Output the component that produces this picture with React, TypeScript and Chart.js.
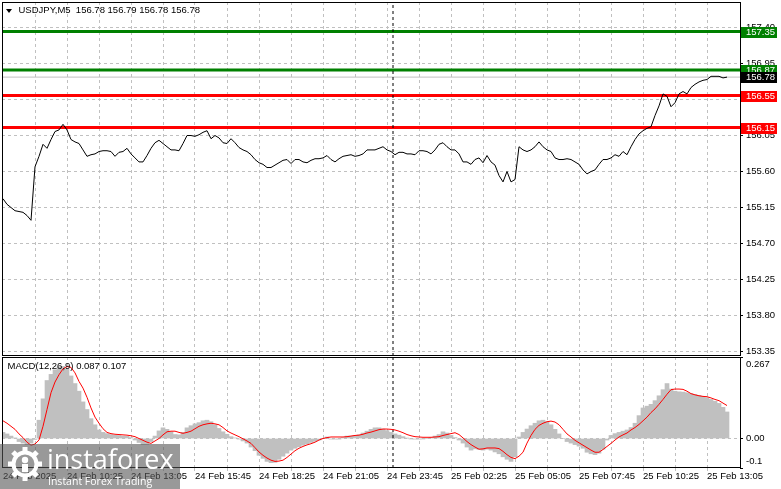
import React, { useEffect, useRef } from 'react';
import { Chart, registerables } from 'chart.js';

Chart.register(...registerables);

// ---------------- data (one sample every 2 M5 bars, starting 24 Feb 07:45) ----------------
const BARS_PER_SAMPLE = 2;

const PRICE: number[] = [
  155.26, 155.19, 155.15, 155.11, 155.10, 155.09, 155.05, 154.99, 155.66, 155.79,
  155.94, 155.89, 156.00, 156.10, 156.12, 156.19, 156.12, 156.00, 155.97, 155.95,
  155.87, 155.79, 155.81, 155.82, 155.85, 155.86, 155.86, 155.85, 155.79, 155.84,
  155.85, 155.89, 155.82, 155.77, 155.72, 155.72, 155.80, 155.89, 155.96, 155.99,
  155.95, 155.91, 155.87, 155.87, 155.86, 155.95, 156.05, 156.05, 156.04, 156.06,
  156.09, 156.11, 156.01, 156.05, 156.02, 155.96, 155.95, 156.01, 155.96, 155.90,
  155.87, 155.85, 155.81, 155.75, 155.71, 155.69, 155.65, 155.65, 155.68, 155.71,
  155.74, 155.75, 155.70, 155.75, 155.75, 155.72, 155.71, 155.74, 155.76, 155.76,
  155.77, 155.80, 155.75, 155.72, 155.76, 155.79, 155.80, 155.81, 155.79, 155.80,
  155.82, 155.87, 155.87, 155.87, 155.89, 155.91, 155.87, 155.85, 155.81, 155.84,
  155.84, 155.82, 155.82, 155.81, 155.86, 155.86, 155.85, 155.82, 155.87, 155.94,
  155.96, 155.91, 155.87, 155.87, 155.82, 155.72, 155.72, 155.69, 155.75, 155.77,
  155.71, 155.80, 155.72, 155.68, 155.55, 155.47, 155.60, 155.47, 155.50, 155.91,
  155.87, 155.85, 155.87, 155.91, 155.97, 155.91, 155.87, 155.85, 155.77, 155.75,
  155.75, 155.76, 155.75, 155.72, 155.69, 155.62, 155.57, 155.60, 155.62, 155.69,
  155.75, 155.75, 155.77, 155.81, 155.79, 155.85, 155.81, 155.91, 156.00, 156.07,
  156.11, 156.14, 156.16, 156.30, 156.42, 156.57, 156.54, 156.41, 156.46, 156.57,
  156.60, 156.57, 156.65, 156.69, 156.72, 156.74, 156.75, 156.79, 156.79, 156.79,
  156.77, 156.78,
];

const MACD_HIST: number[] = [
  0.020, 0.015, 0.008, 0.002, -0.010, -0.015, -0.020, -0.015, -0.003, 0.060,
  0.130, 0.190, 0.210, 0.225, 0.235, 0.236, 0.228, 0.205, 0.180, 0.155,
  0.120, 0.095, 0.065, 0.045, 0.028, 0.020, 0.016, 0.013, 0.011, 0.010,
  0.008, 0.007, 0.003, -0.005, -0.013, -0.020, -0.020, -0.010, 0.008, 0.025,
  0.035, 0.030, 0.022, 0.013, 0.012, 0.020, 0.035, 0.042, 0.048, 0.052,
  0.058, 0.060, 0.055, 0.045, 0.033, 0.022, 0.014, 0.006, 0.002, -0.002,
  -0.008, -0.015, -0.028, -0.040, -0.055, -0.065, -0.075, -0.079, -0.078, -0.068,
  -0.058, -0.048, -0.038, -0.032, -0.027, -0.022, -0.018, -0.013, -0.009, -0.005,
  0.000, 0.005, -0.002, -0.002, -0.002, 0.003, 0.008, 0.008, 0.010, 0.012,
  0.018, 0.024, 0.030, 0.035, 0.035, 0.031, 0.026, 0.020, 0.015, 0.011,
  0.006, 0.001, -0.001, -0.002, -0.002, -0.001, 0.000, 0.003, 0.008, 0.013,
  0.022, 0.018, 0.010, 0.003, -0.005, -0.015, -0.028, -0.038, -0.034, -0.036,
  -0.038, -0.035, -0.038, -0.044, -0.050, -0.060, -0.068, -0.075, -0.060, 0.005,
  0.020, 0.031, 0.042, 0.050, 0.058, 0.060, 0.055, 0.045, 0.030, 0.015,
  0.000, -0.010, -0.015, -0.020, -0.025, -0.032, -0.045, -0.050, -0.053, -0.048,
  -0.035, -0.005, 0.010, 0.016, 0.020, 0.024, 0.028, 0.036, 0.050, 0.075,
  0.100, 0.106, 0.112, 0.124, 0.140, 0.160, 0.180, 0.162, 0.155, 0.153,
  0.152, 0.150, 0.147, 0.144, 0.141, 0.138, 0.134, 0.128, 0.122, 0.115,
  0.102, 0.087,
];

const MACD_SIGNAL: number[] = [
  0.058, 0.050, 0.040, 0.030, 0.015, 0.003, -0.012, -0.022, -0.018, -0.005,
  0.040, 0.095, 0.150, 0.185, 0.209, 0.228, 0.236, 0.233, 0.215, 0.187,
  0.165, 0.135, 0.100, 0.070, 0.050, 0.032, 0.020, 0.016, 0.014, 0.013,
  0.012, 0.011, 0.009, 0.006, 0.000, -0.006, -0.012, -0.016, -0.008, 0.000,
  0.012, 0.022, 0.024, 0.024, 0.020, 0.017, 0.020, 0.024, 0.032, 0.040,
  0.045, 0.048, 0.050, 0.048, 0.045, 0.036, 0.025, 0.018, 0.012, 0.006,
  -0.001, -0.008, -0.016, -0.030, -0.044, -0.055, -0.064, -0.071, -0.075, -0.074,
  -0.071, -0.062, -0.051, -0.040, -0.032, -0.026, -0.021, -0.017, -0.012, -0.005,
  0.000, 0.003, 0.005, 0.005, 0.005, 0.005, 0.006, 0.008, 0.010, 0.011,
  0.014, 0.018, 0.021, 0.025, 0.029, 0.031, 0.031, 0.030, 0.028, 0.024,
  0.019, 0.013, 0.009, 0.006, 0.005, 0.004, 0.004, 0.004, 0.005, 0.006,
  0.010, 0.013, 0.016, 0.019, 0.013, 0.002, -0.010, -0.020, -0.028, -0.035,
  -0.034, -0.031, -0.031, -0.031, -0.033, -0.042, -0.053, -0.062, -0.066, -0.058,
  -0.045, -0.015, 0.010, 0.030, 0.043, 0.050, 0.055, 0.057, 0.054, 0.045,
  0.030, 0.015, 0.005, -0.006, -0.014, -0.022, -0.030, -0.038, -0.045, -0.045,
  -0.036, -0.026, -0.016, -0.005, 0.005, 0.012, 0.018, 0.028, 0.036, 0.046,
  0.058, 0.070, 0.085, 0.097, 0.112, 0.128, 0.145, 0.160, 0.162, 0.162,
  0.161, 0.155, 0.147, 0.143, 0.140, 0.138, 0.137, 0.133, 0.128, 0.124,
  0.116, 0.108,
];

const X_LABELS: string[] = [
  '24 Feb 2025', '24 Feb 10:25', '24 Feb 13:05', '24 Feb 15:45', '24 Feb 18:25', '24 Feb 21:05',
  '24 Feb 23:45', '25 Feb 02:25', '25 Feb 05:05', '25 Feb 07:45', '25 Feb 10:25', '25 Feb 13:05',
];
const LABEL_EVERY_BARS = 32;
const GRID_EVERY_BARS = 16;
const GRID_COUNT = 23;

const Y_TICKS: number[] = [153.35, 153.80, 154.25, 154.70, 155.15, 155.60, 156.05, 156.50, 156.95, 157.40];
const GREEN_LEVELS: number[] = [157.35, 156.87];
const RED_LEVELS: number[] = [156.55, 156.15];
const LAST_PRICE = 156.78;
const SEPARATOR_BAR = 195; // 25 Feb 00:00

const MACD_TICKS: number[] = [-0.0966, 0, 0.267];
const MACD_TICK_LABELS: string[] = ['-0.1', '0.00', '0.267'];

const HEADER_TEXT = 'USDJPY,M5  156.78 156.79 156.78 156.78';
const MACD_TEXT = 'MACD(12,26,9) 0.087 0.107';
const WATERMARK_TITLE = 'instaforex';
const WATERMARK_SUB = 'Instant Forex Trading';

// ---------------- layout / style ----------------
const W = 781;
const MAIN_H = 357;
const MACD_TOP = 357;
const MACD_H = 132;
const X_MIN = -0.5;
const X_MAX = 368.5;
const Y_MIN = 153.294;
const Y_MAX = 157.719;
const GRID = '#c0c0c0';
const FONT_FAMILY = "'Liberation Sans', Arial, sans-serif";
const FONT = { family: FONT_FAMILY, size: 9.5 };

const gridBars = () => Array.from({ length: GRID_COUNT }, (_, k) => k * GRID_EVERY_BARS);

const framePlugin = {
  id: 'frame',
  afterDraw(chart: any) {
    const { ctx, chartArea: a } = chart;
    ctx.save();
    ctx.strokeStyle = '#000';
    ctx.lineWidth = 1;
    ctx.strokeRect(a.left + 0.5, a.top + 0.5, a.right - a.left, a.bottom - a.top - 1);
    ctx.restore();
  },
};

const badges = [
  { value: GREEN_LEVELS[0], color: '#008000' },
  { value: GREEN_LEVELS[1], color: '#008000' },
  { value: LAST_PRICE, color: '#000000' },
  { value: RED_LEVELS[0], color: '#ff0000' },
  { value: RED_LEVELS[1], color: '#ff0000' },
];

const mainOverlay = {
  id: 'mainOverlay',
  afterDraw(chart: any) {
    const { ctx, chartArea: a } = chart;
    const ys = chart.scales.y;
    ctx.save();
    ctx.font = `${FONT.size}px ${FONT_FAMILY}`;
    ctx.textBaseline = 'middle';
    ctx.textAlign = 'left';
    for (const b of badges) {
      const y = Math.round(ys.getPixelForValue(b.value));
      ctx.fillStyle = b.color;
      ctx.fillRect(a.right + 1, y - 5, 36, 11);
      ctx.fillStyle = '#fff';
      ctx.fillText(b.value.toFixed(2), a.right + 6, y + 0.5);
    }
    // header
    ctx.fillStyle = '#000';
    ctx.beginPath();
    ctx.moveTo(6, 9);
    ctx.lineTo(12, 9);
    ctx.lineTo(9, 13);
    ctx.closePath();
    ctx.fill();
    ctx.fillText(HEADER_TEXT, 18.5, 10.5);
    ctx.restore();
  },
};

const macdOverlay = {
  id: 'macdOverlay',
  afterDraw(chart: any) {
    const { ctx } = chart;
    ctx.save();
    ctx.font = `${FONT.size}px ${FONT_FAMILY}`;
    ctx.textBaseline = 'middle';
    ctx.textAlign = 'left';
    ctx.fillStyle = '#000';
    ctx.fillText(MACD_TEXT, 7.5, 9.5);
    // watermark
    const top = 444 - MACD_TOP;
    ctx.fillStyle = 'rgba(85,85,85,0.6)';
    ctx.fillRect(0, top, 180, MACD_H - top);
    const cx = 25;
    const cy = top + 20;
    ctx.fillStyle = '#fff';
    ctx.strokeStyle = '#fff';
    ctx.lineWidth = 4;
    ctx.beginPath();
    ctx.arc(cx, cy, 11.5, 0, Math.PI * 2);
    ctx.stroke();
    for (let k = 0; k < 8; k++) {
      const ang = (k * Math.PI) / 4;
      ctx.save();
      ctx.translate(cx + Math.cos(ang) * 14.5, cy + Math.sin(ang) * 14.5);
      ctx.rotate(ang);
      ctx.fillRect(-2.5, -2.5, 5, 5);
      ctx.restore();
    }
    ctx.beginPath();
    ctx.arc(cx, cy - 4, 3.2, 0, Math.PI * 2);
    ctx.fill();
    ctx.fillRect(cx - 3, cy, 6, 8);
    ctx.font = `27px 'Open Sans', ${FONT_FAMILY}`;
    ctx.textBaseline = 'alphabetic';
    ctx.fillText(WATERMARK_TITLE, 47, top + 25);
    ctx.font = `10.5px 'Open Sans', ${FONT_FAMILY}`;
    ctx.fillText(WATERMARK_SUB, 48, top + 41);
    ctx.restore();
  },
};

const xLabel = (value: any) => {
  const v = Number(value);
  if (v % LABEL_EVERY_BARS === 0) return X_LABELS[v / LABEL_EVERY_BARS] ?? '';
  return '';
};

const gridColor = (ctx: any) => (ctx.tick && ctx.tick.value === 0 ? 'rgba(0,0,0,0)' : GRID);

const noPad = (s: any) => {
  s.paddingLeft = 0;
  s.paddingRight = 0;
  s.paddingTop = 0;
  s.paddingBottom = 0;
};

export default function App() {
  const mainRef = useRef<HTMLCanvasElement | null>(null);
  const macdRef = useRef<HTMLCanvasElement | null>(null);

  useEffect(() => {
    const priceData = PRICE.map((p, j) => ({ x: j * BARS_PER_SAMPLE, y: p }));
    const histData = MACD_HIST.map((v, j) => ({ x: j * BARS_PER_SAMPLE, y: v }));
    const signalData = MACD_SIGNAL.map((v, j) => ({ x: j * BARS_PER_SAMPLE, y: v }));
    const hLine = (v: number) => [{ x: X_MIN, y: v }, { x: X_MAX, y: v }];

    const levelSets = [
      ...GREEN_LEVELS.map((v) => ({ data: hLine(v), borderColor: '#008000', borderWidth: 3, order: 2 })),
      ...RED_LEVELS.map((v) => ({ data: hLine(v), borderColor: '#ff0000', borderWidth: 3, order: 2 })),
    ];

    const main = new Chart(mainRef.current as HTMLCanvasElement, {
      type: 'line',
      data: {
        datasets: [
          ...levelSets,
          { data: hLine(LAST_PRICE), borderColor: GRID, borderWidth: 1, order: 3 },
          {
            data: [{ x: SEPARATOR_BAR, y: Y_MIN }, { x: SEPARATOR_BAR, y: Y_MAX }],
            borderColor: '#000', borderWidth: 1, borderDash: [3, 3], order: 1,
          },
          { data: priceData, borderColor: '#000', borderWidth: 1, order: 0 },
        ] as any,
      },
      options: {
        responsive: false,
        animation: false,
        events: [],
        layout: { padding: { top: 2, left: 2, right: 0, bottom: 1 } },
        elements: { point: { radius: 0 }, line: { tension: 0 } },
        plugins: { legend: { display: false }, tooltip: { enabled: false }, title: { display: false } },
        scales: {
          x: {
            type: 'linear', min: X_MIN, max: X_MAX, offset: false,
            afterBuildTicks: (s: any) => { s.ticks = gridBars().map((v) => ({ value: v })); },
            afterFit: (s: any) => { s.height = 0; noPad(s); },
            ticks: { display: false, autoSkip: false },
            grid: { color: gridColor, drawTicks: false, lineWidth: 1 },
            border: { display: false, dash: [3, 3] },
          },
          y: {
            type: 'linear', position: 'right', min: Y_MIN, max: Y_MAX,
            afterBuildTicks: (s: any) => { s.ticks = Y_TICKS.map((v) => ({ value: v })); },
            afterFit: (s: any) => { s.width = 41; noPad(s); },
            ticks: { callback: (v: any) => Number(v).toFixed(2), color: '#000', font: FONT, padding: 3, autoSkip: false },
            grid: { color: GRID, tickColor: '#000', tickLength: 3, drawTicks: true, tickBorderDash: [] },
            border: { display: false, dash: [3, 3] },
          },
        } as any,
      },
      plugins: [framePlugin, mainOverlay],
    } as any);

    const macd = new Chart(macdRef.current as HTMLCanvasElement, {
      type: 'bar',
      data: {
        datasets: [
          { type: 'line', data: signalData, borderColor: '#ff0000', borderWidth: 1, order: 0, pointRadius: 0, tension: 0 },
          {
            type: 'line', data: [{ x: SEPARATOR_BAR, y: MACD_TICKS[0] }, { x: SEPARATOR_BAR, y: MACD_TICKS[2] }],
            borderColor: '#000', borderWidth: 1, borderDash: [3, 3], order: 1, pointRadius: 0,
          },
          {
            type: 'bar', data: histData, backgroundColor: GRID, borderWidth: 0,
            barPercentage: 1, categoryPercentage: 1, order: 2,
          },
        ] as any,
      },
      options: {
        responsive: false,
        animation: false,
        events: [],
        layout: { padding: { top: 0, left: 2, right: 0, bottom: 0 } },
        plugins: { legend: { display: false }, tooltip: { enabled: false }, title: { display: false } },
        scales: {
          x: {
            type: 'linear', min: X_MIN, max: X_MAX, offset: false,
            afterBuildTicks: (s: any) => { s.ticks = gridBars().map((v) => ({ value: v })); },
            afterFit: (s: any) => { s.height = 21; noPad(s); },
            ticks: { callback: xLabel, color: '#000', font: FONT, padding: 0, autoSkip: false, maxRotation: 0, minRotation: 0, align: 'start' },
            grid: { color: gridColor, tickColor: gridColor, drawTicks: true, tickLength: 3, offset: false, lineWidth: 1 },
            border: { display: false, dash: [3, 3] },
          },
          y: {
            type: 'linear', position: 'right', min: MACD_TICKS[0], max: MACD_TICKS[2],
            afterBuildTicks: (s: any) => { s.ticks = MACD_TICKS.map((v) => ({ value: v })); },
            afterFit: (s: any) => { s.width = 41; noPad(s); },
            ticks: {
              callback: (v: any, i: number) => {
                const label = MACD_TICK_LABELS[i];
                if (i === 0) return [label, ''];
                if (i === MACD_TICKS.length - 1) return ['', label];
                return label;
              },
              color: '#000', font: { ...FONT, lineHeight: 1.45 }, padding: 3, autoSkip: false,
            },
            grid: {
              color: (c: any) => (c.tick && c.tick.value === 0 ? GRID : 'rgba(0,0,0,0)'),
              tickColor: '#000', tickLength: 3, drawTicks: true, tickBorderDash: [],
            },
            border: { display: false, dash: [3, 3] },
          },
        } as any,
      },
      plugins: [framePlugin, macdOverlay],
    } as any);

    return () => {
      main.destroy();
      macd.destroy();
    };
  }, []);

  return (
    <div style={{ position: 'absolute', left: 0, top: 0, width: W, height: MACD_TOP + MACD_H, background: '#fff' }}>
      <canvas ref={mainRef} width={W} height={MAIN_H} style={{ position: 'absolute', left: 0, top: 0, width: W, height: MAIN_H }} />
      <canvas ref={macdRef} width={W} height={MACD_H} style={{ position: 'absolute', left: 0, top: MACD_TOP, width: W, height: MACD_H }} />
    </div>
  );
}
